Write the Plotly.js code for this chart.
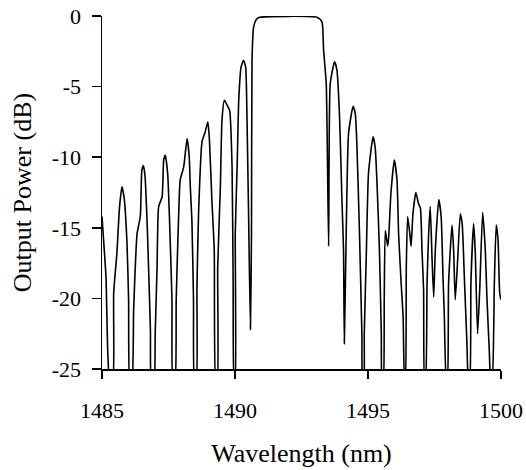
<!DOCTYPE html>
<html>
<head>
<meta charset="utf-8">
<script src="https://cdn.plot.ly/plotly-3.0.1.min.js"></script>
<style>html,body{margin:0;padding:0;background:#fff;}#chart{width:526px;height:470px;}</style>
</head>
<body>
<div id="chart"></div>
<script>
// Wavelength (nm)
const wavelength = [
1485.00,1485.05,1485.15,1485.22,1485.30,1485.40,1485.44,1485.56,1485.66,1485.75,1485.84,1485.94,1486.00,1486.05,1486.12,
1486.19,1486.32,1486.44,1486.50,1486.56,1486.62,1486.71,1486.82,1486.86,1486.95,
1487.00,1487.07,1487.13,1487.26,1487.32,1487.38,1487.47,1487.54,1487.63,1487.67,1487.74,
1487.79,1487.88,1487.94,1488.07,1488.20,1488.28,1488.32,1488.38,1488.44,1488.48,1488.54,
1488.57,1488.63,1488.76,1488.88,1488.98,1489.04,1489.13,1489.22,1489.28,1489.33,
1489.35,1489.45,1489.51,1489.60,1489.70,1489.80,1489.89,1489.93,1489.97,1490.00,
1490.01,1490.08,1490.14,1490.23,1490.32,1490.40,1490.45,1490.51,1490.58,1490.62,1490.64,1490.70,1490.80,1490.90,
1493.10,1493.27,1493.33,1493.43,1493.52,1493.58,1493.74,1493.83,1493.93,1494.02,1494.08,1494.11,
1494.18,1494.27,1494.44,1494.52,1494.58,1494.68,1494.77,1494.80,1494.84,
1494.86,1494.94,1495.02,1495.19,1495.27,1495.34,1495.43,1495.50,1495.53,1495.57,
1495.61,1495.65,1495.74,1495.78,1495.86,1495.99,1496.09,1496.15,1496.24,1496.32,1496.38,1496.40,
1496.44,1496.49,1496.57,1496.62,1496.69,1496.80,1496.90,1496.97,1497.03,1497.09,1497.13,1497.16,
1497.22,1497.28,1497.34,1497.41,1497.47,1497.53,1497.66,1497.75,1497.82,1497.87,1497.95,1497.98,
1498.03,1498.16,1498.22,1498.28,1498.37,1498.47,1498.54,1498.63,1498.72,1498.78,1498.82,
1498.87,1498.97,1499.03,1499.12,1499.20,1499.31,1499.41,1499.47,1499.56,1499.62,1499.66,
1499.75,1499.82,1499.89,1499.95,1500.00
];
// Output power (dB)
const outputPower = [
-14.2,-15.6,-18.5,-24.0,-26,-26,-19.6,-16.8,-13.5,-12.1,-13.0,-16.1,-20.1,-26,-26,
-20.8,-15.4,-14.2,-10.9,-10.6,-11.4,-15.4,-22.2,-26,-26,
-22.5,-17.8,-13.5,-12.8,-10.2,-9.86,-11.2,-14.5,-20.1,-26,-26,
-20.1,-14.2,-11.6,-10.7,-8.68,-10.0,-12.1,-14.5,-20.1,-26,-26,
-19.2,-14.0,-8.9,-8.2,-7.5,-8.8,-13.0,-16.6,-26,-26,
-17.8,-12.1,-7.4,-5.97,-6.3,-6.7,-10.7,-18.9,-26,-26,
-15.4,-10.7,-6.0,-3.6,-3.13,-3.6,-7.1,-14.0,-22.2,-15.4,-3.1,-0.78,-0.25,-0.1,
-0.1,-0.42,-2.4,-4.8,-16.3,-4.8,-3.25,-3.8,-7.1,-13.0,-16.6,-23.2,
-15.4,-8.3,-6.39,-6.9,-9.0,-15.4,-22.5,-26,-26,
-22.5,-16.6,-11.1,-8.55,-9.3,-11.9,-16.6,-22.5,-26,-26,
-20.1,-15.2,-16.3,-15.6,-12.6,-10.2,-11.6,-15.4,-18.7,-21.3,-26,-26,
-17.8,-14.2,-15.4,-16.3,-14.0,-12.5,-13.3,-13.6,-16.6,-19.4,-26,-26,
-18.9,-15.4,-13.5,-17.3,-19.9,-16.6,-13.0,-14.2,-18.5,-21.3,-26,-26,
-18.9,-14.8,-16.6,-20.1,-17.3,-14.0,-14.7,-18.9,-23.2,-26,-26,
-18.9,-14.7,-16.6,-22.5,-19.4,-13.9,-16.6,-19.9,-23.7,-26,-26,
-18.9,-14.8,-15.9,-19.6,-20.1
];
const xTickVals = [1485, 1490, 1495, 1500];
const xTickText = ["1485", "1490", "1495", "1500"];
const yTickVals = [0, -5, -10, -15, -20, -25];
const yTickText = ["0", "-5", "-10", "-15", "-20", "-25"];

const serif = "Liberation Serif, Times New Roman, serif";

Plotly.newPlot("chart", [{
  x: wavelength,
  y: outputPower,
  type: "scatter",
  mode: "lines",
  line: {color: "#000", width: 1.6, shape: "spline", smoothing: 0.5},
  hoverinfo: "skip"
}], {
  width: 526, height: 470,
  margin: {l: 102, r: 25, t: 16, b: 101, pad: 0},
  paper_bgcolor: "#fff", plot_bgcolor: "#fff",
  showlegend: false,
  font: {family: serif, color: "#000"},
  xaxis: {
    range: [1485, 1500],
    tickvals: xTickVals, ticktext: xTickText,
    ticks: "outside", ticklen: 8, tickwidth: 1.5, tickcolor: "#000",
    showline: true, linecolor: "#000", linewidth: 1.5,
    showgrid: false, zeroline: false,
    tickfont: {family: serif, size: 22, color: "#000"},
    ticklabelstandoff: 13,
    title: {text: "Wavelength (nm)", font: {family: serif, size: 26, color: "#000"}, standoff: 22},
    automargin: false
  },
  yaxis: {
    range: [-25, 0],
    tickvals: yTickVals, ticktext: yTickText,
    ticks: "outside", ticklen: 9, tickwidth: 1.5, tickcolor: "#000",
    showline: true, linecolor: "#000", linewidth: 1.5,
    showgrid: false, zeroline: false,
    tickfont: {family: serif, size: 22, color: "#000"},
    ticklabelstandoff: 6,
    title: {text: "Output Power (dB)", font: {family: serif, size: 26, color: "#000"}, standoff: 12},
    automargin: false
  }
}, {displayModeBar: false, staticPlot: true});
</script>
</body>
</html>
